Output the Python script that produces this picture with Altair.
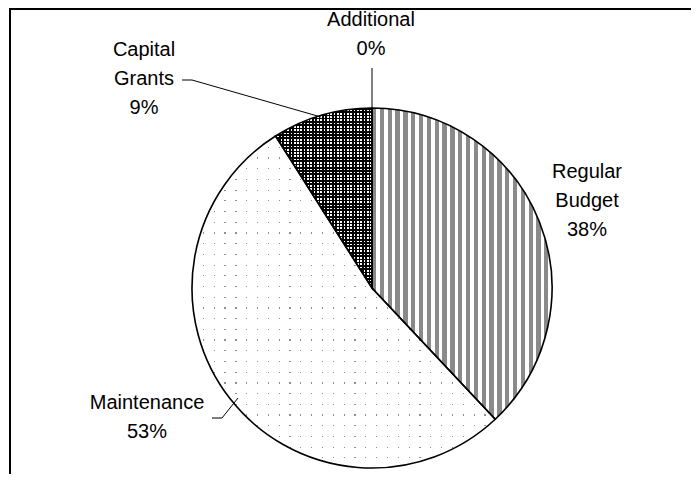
import altair as alt
import pandas as pd

# ---- data ----
categories = ["Regular Budget", "Maintenance", "Capital Grants", "Additional"]
percents = [38, 53, 9, 0]
labels = ["Regular\nBudget\n38%", "Maintenance\n53%", "Capital\nGrants\n9%", "Additional\n0%"]

# ---- layout (canvas pixels) ----
W, H = 683, 466
CX, CY, R = 364, 280, 180
label_x = [579, 139, 136, 363]
label_y = [164, 395, 42, 12]   # centre of first line
leader_id = ["cap", "cap", "cap", "mai", "mai", "mai", "add", "add"]
leader_x = [174, 184, 313, 204, 214, 230, 364, 364]
leader_y = [72, 72, 109, 410, 410, 390, 60, 100]
FONT = "Liberation Sans"

df = pd.DataFrame({"category": categories, "value": percents, "order": list(range(len(categories)))})
lab_df = pd.DataFrame({"text": labels, "x": label_x, "y": label_y})
lead_df = pd.DataFrame({"id": leader_id, "x": leader_x, "y": leader_y, "o": list(range(len(leader_x)))})


def stripes(n, c_on, c_off, frac, vertical=True):
    stops = []
    for i in range(n):
        a = min(1.0, i / n)
        b = min(1.0, (i + frac) / n)
        c = min(1.0, (i + 1) / n)
        stops += [
            alt.GradientStop(offset=a, color=c_on),
            alt.GradientStop(offset=b, color=c_on),
            alt.GradientStop(offset=b, color=c_off),
            alt.GradientStop(offset=c, color=c_off),
        ]
    if vertical:
        return alt.Gradient(gradient="linear", stops=stops, x1=0, y1=0, x2=1, y2=0)
    return alt.Gradient(gradient="linear", stops=stops, x1=0, y1=0, x2=0, y2=1)


base = alt.Chart(df).transform_window(
    cum="sum(value)", sort=[alt.SortField("order")], frame=[None, 0]
).transform_calculate(start="datum.cum - datum.value")

theta_scale = alt.Scale(domain=[0, 100], range=[0, 6.283185307179586])
enc = dict(
    theta=alt.Theta("start:Q", scale=theta_scale),
    theta2="cum:Q",
    x=alt.value(CX),
    y=alt.value(CY),
)


def arc(cat, fill):
    return base.transform_filter(alt.datum.category == cat).mark_arc(
        outerRadius=R, fill=fill, strokeWidth=0
    ).encode(**enc)


TR = "rgba(255,255,255,0)"
layers = [
    arc("Regular Budget", stripes(23, "#8a8a8a", "#ffffff", 0.55)),
    arc("Maintenance", "#8f8f8f"),
    arc("Maintenance", stripes(28, TR, "#ffffff", 0.11)),
    arc("Maintenance", stripes(31, TR, "#ffffff", 0.11, vertical=False)),
    arc("Capital Grants", "#ffffff"),
    arc("Capital Grants", stripes(29, "#000000", TR, 0.5)),
    arc("Capital Grants", stripes(55, "#000000", TR, 0.5, vertical=False)),
]

outline = base.mark_arc(outerRadius=R, fill="white", fillOpacity=0, stroke="black", strokeWidth=1.6).encode(**enc)

text = alt.Chart(lab_df).mark_text(
    font=FONT, fontSize=20, lineHeight=29, lineBreak="\n", align="center", baseline="middle", color="black"
).encode(
    x=alt.X("x:Q", scale=None, axis=None),
    y=alt.Y("y:Q", scale=None, axis=None),
    text="text:N",
)

leaders = alt.Chart(lead_df).mark_line(color="black", strokeWidth=1).encode(
    x=alt.X("x:Q", scale=None, axis=None),
    y=alt.Y("y:Q", scale=None, axis=None),
    detail="id:N",
    order="o:Q",
)

frame_left = alt.Chart(df).mark_rule(color="black", strokeWidth=2).encode(
    x=alt.value(2), y=alt.value(0), y2=alt.value(H)
)
frame_top = alt.Chart(df).mark_rule(color="black", strokeWidth=2).encode(
    x=alt.value(1), x2=alt.value(W), y=alt.value(1)
)

chart = alt.layer(*layers, outline, leaders, text, frame_left, frame_top).properties(
    width=W, height=H, padding=0, autosize=alt.AutoSizeParams(type="none")
).configure_view(strokeWidth=0)

chart.save("out.html", embed_options={"renderer": "svg", "actions": False})
